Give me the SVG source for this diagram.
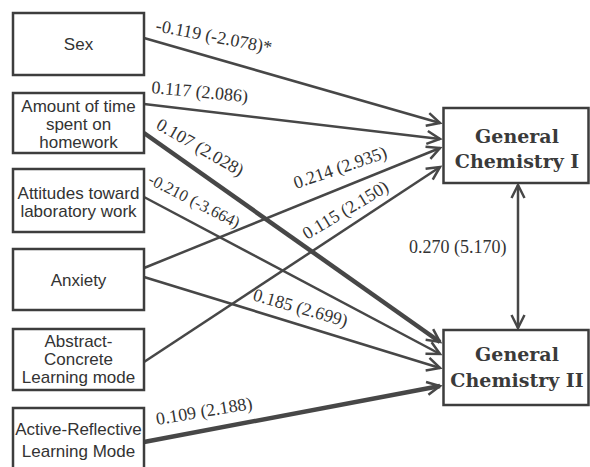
<svg xmlns="http://www.w3.org/2000/svg" width="590" height="467" viewBox="0 0 590 467">
<defs>
<style>
.box{fill:#fff;stroke:#3d3d3d;stroke-width:2.5}
.lt{font-family:"Liberation Sans",Arial,sans-serif;font-size:17px;fill:#333;text-anchor:middle}
.rt{font-family:"DejaVu Serif",serif;font-weight:bold;font-size:19px;fill:#3a3a3a;text-anchor:middle}
.c{stroke:#474747;stroke-width:2.5;fill:none}
.thick{stroke-width:4.5}
.lbl{font-family:"Liberation Serif","Times New Roman",serif;font-size:18px;fill:#333}
</style>
<marker id="ah" markerUnits="userSpaceOnUse" markerWidth="20" markerHeight="20" viewBox="-16 -10 20 20" refX="0" refY="0" orient="auto-start-reverse">
<path d="M-13,-6.5 L0,0 L-13,6.5" fill="none" stroke="#474747" stroke-width="2.5"/>
</marker>
</defs>
<rect width="590" height="467" fill="#fff"/>

<g id="connectors">
<line class="c" x1="144" y1="38" x2="440" y2="123" marker-end="url(#ah)"/>
<line class="c" x1="144" y1="104" x2="440" y2="139" marker-end="url(#ah)"/>
<line class="c thick" x1="144" y1="133" x2="440" y2="342" marker-end="url(#ah)"/>
<line class="c" x1="144" y1="197" x2="440" y2="354" marker-end="url(#ah)"/>
<line class="c" x1="144" y1="268" x2="440" y2="148" marker-end="url(#ah)"/>
<line class="c" x1="144" y1="277" x2="440" y2="368" marker-end="url(#ah)"/>
<line class="c" x1="144" y1="362" x2="440" y2="167" marker-end="url(#ah)"/>
<line class="c thick" x1="144" y1="442" x2="440" y2="386" marker-end="url(#ah)"/>
<line class="c" x1="518" y1="185" x2="518" y2="328" marker-start="url(#ah)" marker-end="url(#ah)"/>
<text class="lbl" transform="translate(155,31) rotate(11)">-0.119 (-2.078)*</text>
<text class="lbl" transform="translate(151,93) rotate(5.5)">0.117 (2.086)</text>
<text class="lbl" transform="translate(155,128) rotate(30)">0.107 (2.028)</text>
<text class="lbl" style="font-size:16.5px" transform="translate(147,183) rotate(27)">-0.210 (-3.664)</text>
<text class="lbl" transform="translate(296,189) rotate(-19)">0.214 (2.935)</text>
<text class="lbl" transform="translate(307,240) rotate(-31)">0.115 (2.150)</text>
<text class="lbl" x="409" y="253">0.270 (5.170)</text>
<text class="lbl" transform="translate(252,300) rotate(16)">0.185 (2.699)</text>
<text class="lbl" transform="translate(157,425) rotate(-9.5)">0.109 (2.188)</text>
</g>

<g id="sex">
<rect class="box" x="13" y="13" width="131" height="62"/>
<text class="lt" x="78.5" y="50">Sex</text>
</g>
<g id="homework">
<rect class="box" x="13" y="93" width="131" height="60"/>
<text class="lt" x="78.5" y="112">Amount of time</text>
<text class="lt" x="78.5" y="130">spent on</text>
<text class="lt" x="78.5" y="148">homework</text>
</g>
<g id="attitudes">
<rect class="box" x="13" y="169" width="131" height="63"/>
<text class="lt" x="78.5" y="199">Attitudes toward</text>
<text class="lt" x="78.5" y="217">laboratory work</text>
</g>
<g id="anxiety">
<rect class="box" x="13" y="249" width="131" height="61"/>
<text class="lt" x="78.5" y="286">Anxiety</text>
</g>
<g id="abstract">
<rect class="box" x="13" y="329" width="131" height="61"/>
<text class="lt" x="78.5" y="347">Abstract-</text>
<text class="lt" x="78.5" y="365">Concrete</text>
<text class="lt" x="78.5" y="383">Learning mode</text>
</g>
<g id="active">
<rect class="box" x="13" y="408" width="131" height="64"/>
<text class="lt" x="78.5" y="435">Active-Reflective</text>
<text class="lt" x="78.5" y="457">Learning Mode</text>
</g>
<g id="chem1">
<rect class="box" x="443.5" y="108" width="145" height="75"/>
<text class="rt" x="517" y="143">General</text>
<text class="rt" x="517" y="168">Chemistry I</text>
</g>
<g id="chem2">
<rect class="box" x="443.5" y="330" width="145" height="75"/>
<text class="rt" x="517" y="361">General</text>
<text class="rt" x="517" y="387">Chemistry II</text>
</g>
</svg>
